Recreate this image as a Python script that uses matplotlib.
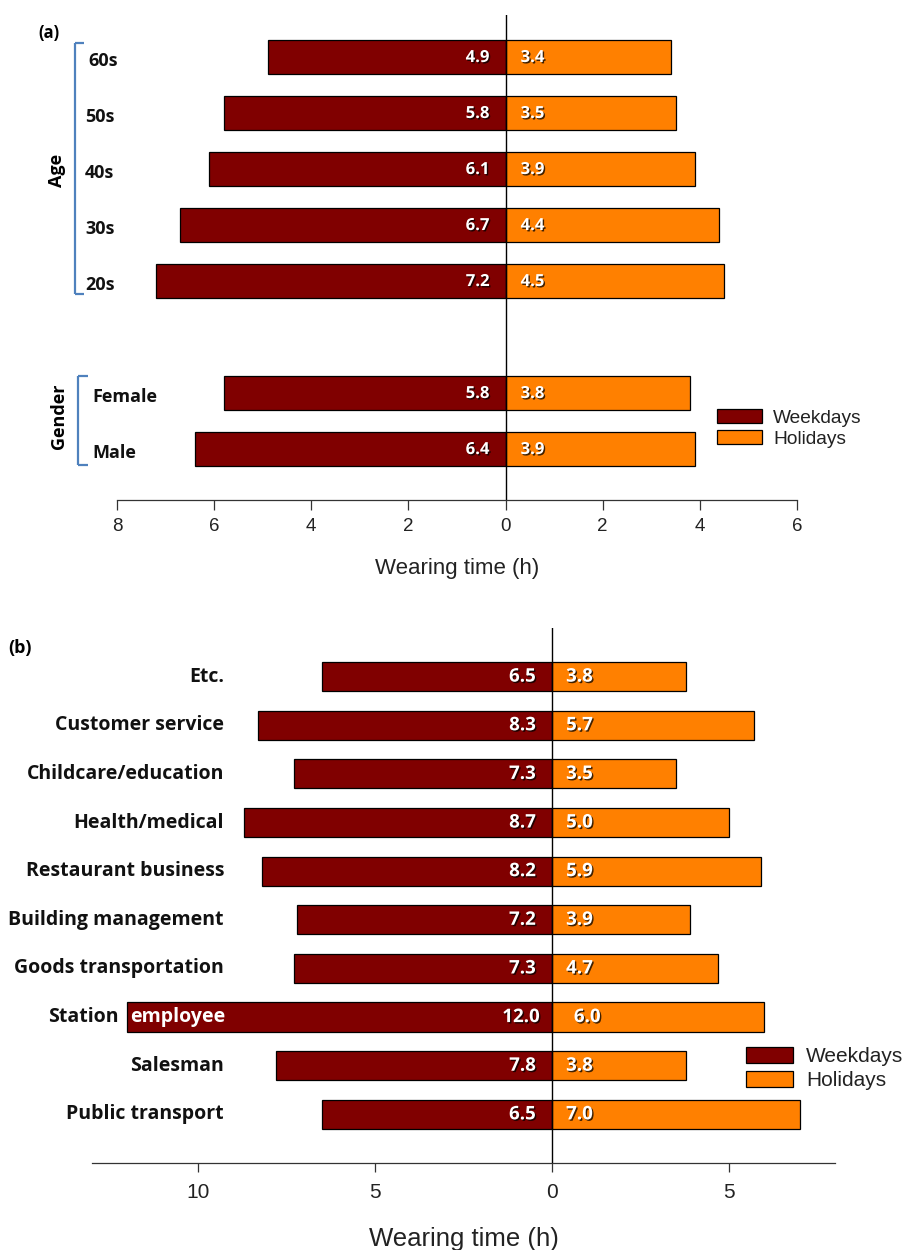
import matplotlib
matplotlib.use('Agg')
import matplotlib.pyplot as plt
from matplotlib import patheffects as pe
from matplotlib.transforms import blended_transform_factory
from matplotlib.patches import Patch
from matplotlib.lines import Line2D
from matplotlib.ticker import FuncFormatter

# ---------------- data ----------------
age_groups = ['60s', '50s', '40s', '30s', '20s']
age_weekdays = [4.9, 5.8, 6.1, 6.7, 7.2]
age_holidays = [3.4, 3.5, 3.9, 4.4, 4.5]
gender_groups = ['Female', 'Male']
gender_weekdays = [5.8, 6.4]
gender_holidays = [3.8, 3.9]

jobs = ['Etc.', 'Customer service', 'Childcare/education', 'Health/medical',
        'Restaurant business', 'Building management', 'Goods transportation',
        'Station employee', 'Salesman', 'Public transport']
job_weekdays = [6.5, 8.3, 7.3, 8.7, 8.2, 7.2, 7.3, 12.0, 7.8, 6.5]
job_holidays = [3.8, 5.7, 3.5, 5.0, 5.9, 3.9, 4.7, 6.0, 3.8, 7.0]

ticks_a = [-8, -6, -4, -2, 0, 2, 4, 6]
ticks_b = [-10, -5, 0, 5]
series_names = ['Weekdays', 'Holidays']

# ---------------- style ----------------
W, H = 907, 1250
C_WD = '#800000'
C_HD = '#FF8000'
BLUE = '#4F81BD'
LBL_FONT = 'Open Sans'
AX_FONT = 'Liberation Sans'
EDGE_LW = 0.9

fig = plt.figure(figsize=(W / 100, H / 100), dpi=100)


def px_axes(x0, y0, x1, y1):
    return fig.add_axes([x0 / W, 1 - y1 / H, (x1 - x0) / W, (y1 - y0) / H])


shadow = [pe.withSimplePatchShadow(offset=(1, -1), shadow_rgbFace='black', alpha=0.75)]


def style_axis(ax, xlim, ylim, ticks, tick_fs, ticklen, pad, xlabel_fs, labelpad):
    ax.set_xlim(*xlim)
    ax.set_ylim(*ylim)
    for s in ['left', 'right', 'top']:
        ax.spines[s].set_visible(False)
    ax.spines['bottom'].set_linewidth(EDGE_LW)
    ax.spines['bottom'].set_color('#333333')
    ax.set_yticks([])
    ax.set_xticks(ticks)
    ax.xaxis.set_major_formatter(FuncFormatter(lambda v, p: f'{abs(v):g}'))
    ax.tick_params(axis='x', direction='out', length=ticklen, width=EDGE_LW,
                   color='#333333', pad=pad, labelsize=tick_fs, labelcolor='#222222')
    for t in ax.get_xticklabels():
        t.set_fontfamily(AX_FONT)
    ax.set_xlabel('Wearing time (h)', fontsize=xlabel_fs, fontfamily=AX_FONT,
                  color='#222222', labelpad=labelpad)
    ax.axvline(0, color='black', lw=1.0, zorder=4)
    ax.patch.set_alpha(0)


# ================= Panel (a) =================
axa = px_axes(117, 15, 797, 500)
pos_a = [0, 1, 2, 3, 4, 6, 7]
labels_a = age_groups + gender_groups
wd_a = age_weekdays + gender_weekdays
hd_a = age_holidays + gender_holidays
bh = 0.6
axa.barh(pos_a, [-v for v in wd_a], height=bh, color=C_WD, edgecolor='black',
         linewidth=EDGE_LW, zorder=2)
axa.barh(pos_a, hd_a, height=bh, color=C_HD, edgecolor='black',
         linewidth=EDGE_LW, zorder=2)
style_axis(axa, (-8, 6), (7.91, -0.75), ticks_a, 13.5, 7.2, 5.5, 16, 17)

for p, w, h in zip(pos_a, wd_a, hd_a):
    axa.text(-0.33, p, f'{w:.1f}', ha='right', va='center', color='white',
             fontsize=12, fontweight='bold', fontfamily=LBL_FONT,
             path_effects=shadow, zorder=5)
    axa.text(0.31, p, f'{h:.1f}', ha='left', va='center', color='white',
             fontsize=12, fontweight='bold', fontfamily=LBL_FONT,
             path_effects=shadow, zorder=5)

tra = blended_transform_factory(fig.transFigure, axa.transData)
label_x_a = {'60s': 88, 'Female': 92, 'Male': 92}
for p, lab in zip(pos_a, labels_a):
    x = label_x_a.get(lab, 85)
    axa.text(x / W, p + 0.07, lab, transform=tra, ha='left', va='center',
             fontsize=13, fontweight='bold', fontfamily=LBL_FONT, color='#111111',
             clip_on=False)

# brackets
def bracket(ax, tr, x, xend, y0, y1):
    for xs, ys in [([x, x], [y0, y1]), ([x, xend], [y0, y0]), ([x, xend], [y1, y1])]:
        ax.add_line(Line2D([v / W for v in xs], ys, transform=tr, color=BLUE,
                           lw=1.6, clip_on=False, solid_capstyle='butt'))

bracket(axa, tra, 75, 84, -0.25, 4.23)
bracket(axa, tra, 78, 88, 5.70, 7.29)
axa.text(57 / W, 2.02, 'Age', transform=tra, rotation=90, ha='center', va='center',
         fontsize=13, fontweight='bold', fontfamily=LBL_FONT, clip_on=False)
axa.text(59 / W, 6.41, 'Gender', transform=tra, rotation=90, ha='center', va='center',
         fontsize=13, fontweight='bold', fontfamily=LBL_FONT, clip_on=False)

fig.text(38 / W, 1 - 33 / H, '(a)', ha='left', va='center', fontsize=12,
         fontweight='bold', fontfamily=LBL_FONT)

handles_a = [Patch(facecolor=C_WD, edgecolor='black', linewidth=EDGE_LW, label=series_names[0]),
             Patch(facecolor=C_HD, edgecolor='black', linewidth=EDGE_LW, label=series_names[1])]
leg_a = fig.legend(handles=handles_a, loc='upper left', bbox_to_anchor=(717 / W, 1 - 409 / H),
                   frameon=False, prop={'family': AX_FONT, 'size': 13.8},
                   handlelength=2.35, handleheight=0.73, handletextpad=0.57,
                   labelspacing=0.2, borderpad=0, borderaxespad=0)
for t in leg_a.get_texts():
    t.set_color('#222222')

# ================= Panel (b) =================
axb = px_axes(92, 628, 835, 1163)
pos_b = list(range(len(jobs)))
axb.barh(pos_b, [-v for v in job_weekdays], height=bh, color=C_WD,
         edgecolor='black', linewidth=EDGE_LW, zorder=2)
axb.barh(pos_b, job_holidays, height=bh, color=C_HD, edgecolor='black',
         linewidth=EDGE_LW, zorder=2)
style_axis(axb, (-13, 8), (10, -1), ticks_b, 15, 6.5, 8, 18.5, 18)

for p, w, h in zip(pos_b, job_weekdays, job_holidays):
    wx = -0.34 if w >= 10 else -0.45
    hx = 0.62 if w >= 10 else 0.4
    axb.text(wx, p, f'{w:.1f}', ha='right', va='center', color='white',
             fontsize=13.5, fontweight='bold', fontfamily=LBL_FONT,
             path_effects=shadow, zorder=5)
    axb.text(hx, p, f'{h:.1f}', ha='left', va='center', color='white',
             fontsize=13.5, fontweight='bold', fontfamily=LBL_FONT,
             path_effects=shadow, zorder=5)

trb = blended_transform_factory(fig.transFigure, axb.transData)
for p, lab, w in zip(pos_b, jobs, job_weekdays):
    if w >= 10 and ' ' in lab:
        # long bar reaches into the label: last word sits inside the bar in white
        first, second = lab.split(' ', 1)
        axb.text(119 / W, p, first, transform=trb, ha='right', va='center',
                 fontsize=14, fontweight='bold', fontfamily=LBL_FONT, color='#111111',
                 clip_on=False, zorder=6)
        axb.annotate(second, (-w, p), xytext=(3, 0), textcoords='offset pixels',
                     ha='left', va='center', fontsize=14, fontweight='bold',
                     fontfamily=LBL_FONT, color='white', annotation_clip=False, zorder=6)
    else:
        axb.text(224 / W, p, lab, transform=trb, ha='right', va='center',
                 fontsize=14, fontweight='bold', fontfamily=LBL_FONT, color='#111111',
                 clip_on=False, zorder=6)

fig.text(8 / W, 1 - 648 / H, '(b)', ha='left', va='center', fontsize=13,
         fontweight='bold', fontfamily=LBL_FONT)

handles_b = [Patch(facecolor=C_WD, edgecolor='black', linewidth=EDGE_LW, label=series_names[0]),
             Patch(facecolor=C_HD, edgecolor='black', linewidth=EDGE_LW, label=series_names[1])]
leg_b = fig.legend(handles=handles_b, loc='upper left', bbox_to_anchor=(746 / W, 1 - 1047 / H),
                   frameon=False, prop={'family': AX_FONT, 'size': 15},
                   handlelength=2.26, handleheight=0.82, handletextpad=0.63,
                   labelspacing=0.2, borderpad=0, borderaxespad=0)
for t in leg_b.get_texts():
    t.set_color('#222222')

fig.savefig('out.png', dpi=100)
